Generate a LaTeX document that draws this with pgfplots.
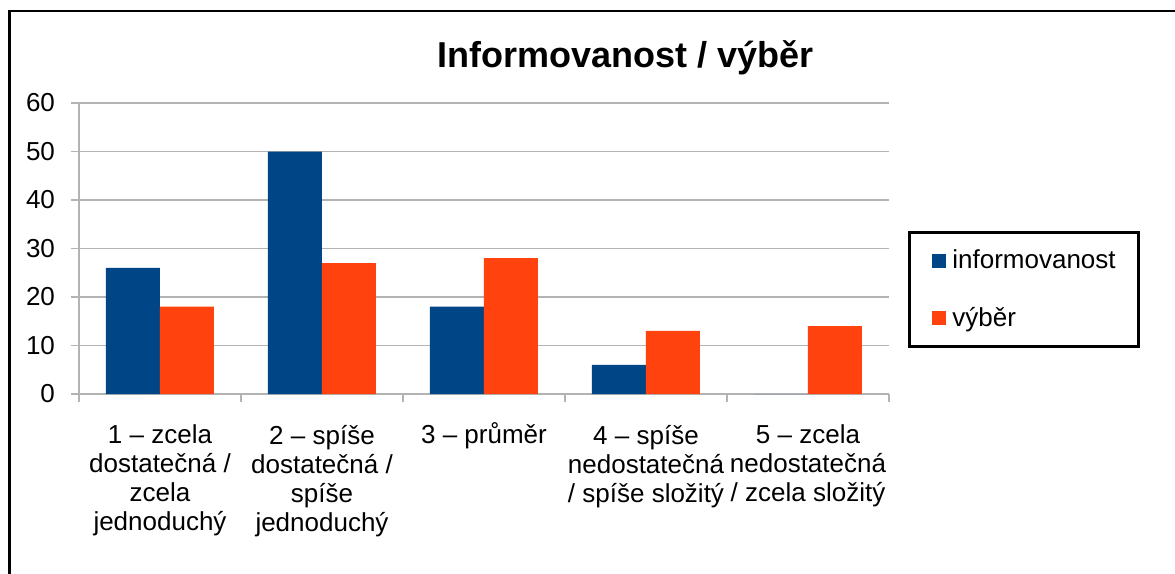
\documentclass[border=0pt]{standalone}
\usepackage{fontspec}
\setmainfont{Liberation Sans}
\usepackage{pgfplots}
\pgfplotsset{compat=1.18}
\definecolor{lobblue}{HTML}{004586}
\definecolor{loborange}{HTML}{FF420E}
\definecolor{axgray}{HTML}{B3B3B3}
\begin{document}
\begin{tikzpicture}
\useasboundingbox (0,0) rectangle (587.5pt,287pt);
\draw[line width=1.3pt] (4.75pt,-5pt) |- (600pt,281.5pt);
\begin{axis}[
  at={(39.5pt,90pt)}, anchor=south west,
  scale only axis,
  width=405pt, height=145.5pt,
  ybar=0pt, bar width=27pt,
  xmin=-0.5, xmax=4.5,
  ymin=0, ymax=60,
  ytick={0,10,...,60},
  xtick={-0.5,0.5,...,4.5},
  xticklabels={},
  extra x ticks={0,1,2,3,4},
  extra x tick labels={%
    {1 – zcela\\dostatečná /\\zcela\\jednoduchý},
    {2 – spíše\\dostatečná /\\spíše\\jednoduchý},
    {3 – pr\smash{ů}měr},
    {4 – spíše\\nedostatečná\\/ spíše složitý},
    {5 – zcela\\nedostatečná\\/ zcela složitý}},
  extra x tick style={major tick length=0pt,
    tick label style={align=center, anchor=north, yshift=-12pt,
      font=\fontsize{13}{14.5}\selectfont}},
  axis lines*=left,
  axis line style={axgray, line width=0.6pt},
  tick style={axgray, line width=0.6pt},
  tick align=outside,
  major tick length=4pt,
  ymajorgrids,
  grid style={axgray, line width=0.6pt},
  /pgf/number format/assume math mode=true,
  yticklabel style={font=\fontsize{13}{15}\selectfont, xshift=-4.5pt},
  title={Informovanost / výběr},
  title style={at={(0.675,1)}, anchor=base, yshift=12pt,
    font=\bfseries\fontsize{18}{21}\selectfont},
  legend image code/.code={\fill[#1] (0pt,-3.5pt) rectangle (7pt,3.5pt);},
  legend style={at={(1.1667,0.359)}, anchor=center,
    draw=black, line width=1.2pt,
    inner xsep=11.5pt, inner ysep=0pt,
    column sep=3pt,
    font=\fontsize{13}{15}\selectfont,
    nodes={inner sep=0pt, minimum height=28.5pt, anchor=west}},
  legend cell align=left,
]
\addplot[fill=lobblue, draw=none] coordinates {(0,26) (1,50) (2,18) (3,6) (4,0)};
\addlegendentry{informovanost}
\addplot[fill=loborange, draw=none] coordinates {(0,18) (1,27) (2,28) (3,13) (4,14)};
\addlegendentry{výběr}
\end{axis}
\end{tikzpicture}
\end{document}
